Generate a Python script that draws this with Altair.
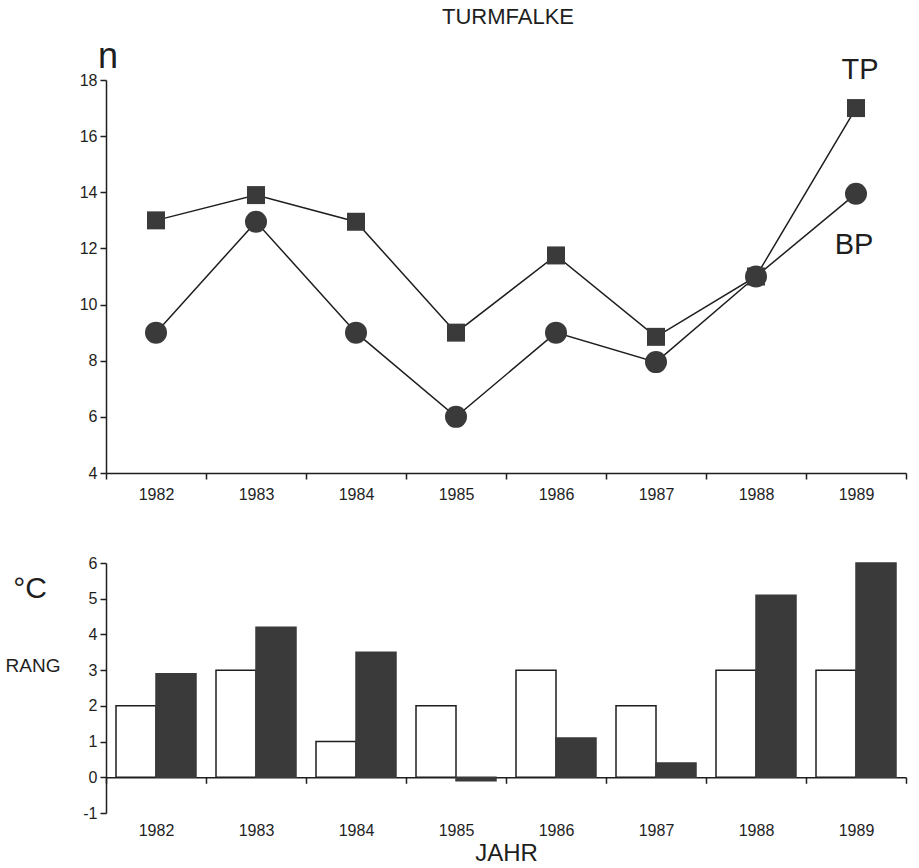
import altair as alt
import pandas as pd

years = ["1982", "1983", "1984", "1985", "1986", "1987", "1988", "1989"]
tp = [13, 13.9, 12.95, 9, 11.75, 8.85, 11, 17]
bp = [9, 12.95, 9, 6, 9, 7.95, 11, 13.95]
rang = [2, 3, 1, 2, 3, 2, 3, 3]
temp = [2.9, 4.2, 3.5, -0.1, 1.1, 0.4, 5.1, 6.0]

FONT = "Liberation Sans"
DARK = "#3a3a3a"
INK = "#1e1e1e"
LFS = 16

lines_df = pd.DataFrame({"Jahr": years * 2, "n": tp + bp,
                         "Reihe": ["TP"] * 8 + ["BP"] * 8})
bars_df = pd.DataFrame({"Jahr": years * 2, "Wert": rang + temp,
                        "Reihe": ["RANG"] * 8 + ["°C"] * 8})
title_df = pd.DataFrame({"label": ["TURMFALKE"]})
n_df = pd.DataFrame({"label": ["n"]})
c_df = pd.DataFrame({"label": ["°C"]})
rang_df = pd.DataFrame({"label": ["RANG"]})

xtop = alt.X("Jahr:N", bandPosition=0.5,
             scale=alt.Scale(type="band", paddingInner=0, paddingOuter=0),
             axis=alt.Axis(tickBand="extent", labelAngle=0, title=None,
                           labelPadding=7, labelFontSize=LFS))
ytop = alt.Y("n:Q", scale=alt.Scale(domain=[4, 18]),
             axis=alt.Axis(values=list(range(4, 19, 2)), title=None,
                           labelFontSize=LFS))

line = alt.Chart(lines_df).mark_line(color=INK, strokeWidth=1.5).encode(
    x=xtop, y=ytop, detail="Reihe:N")
points = alt.Chart(lines_df).mark_point(filled=True, opacity=1, color=DARK).encode(
    x=xtop, y=ytop,
    shape=alt.Shape("Reihe:N", scale=alt.Scale(domain=["TP", "BP"], range=["square", "circle"]), legend=None),
    size=alt.Size("Reihe:N", scale=alt.Scale(domain=["TP", "BP"], range=[324, 484]), legend=None),
)
tp_lab = alt.Chart(lines_df).transform_filter(
    "datum.Reihe == 'TP' && datum.Jahr == '1989'"
).mark_text(dy=-38, dx=4, fontSize=29, font=FONT, color=INK).encode(
    x=xtop, y=ytop, text="Reihe:N")
bp_lab = alt.Chart(lines_df).transform_filter(
    "datum.Reihe == 'BP' && datum.Jahr == '1989'"
).mark_text(dy=51, dx=-2, fontSize=29, font=FONT, color=INK).encode(
    x=xtop, y=ytop, text="Reihe:N")
title_t = alt.Chart(title_df).mark_text(fontSize=22, font=FONT, color=INK, baseline="middle").encode(
    x=alt.value(402), y=alt.value(-63), text="label:N")
n_t = alt.Chart(n_df).mark_text(fontSize=36, font=FONT, color=INK, baseline="alphabetic").encode(
    x=alt.value(2), y=alt.value(-12), text="label:N")

top = alt.layer(line, points, tp_lab, bp_lab, title_t, n_t).properties(width=800, height=393)

xbot = alt.X("Jahr:N", scale=alt.Scale(paddingInner=0, paddingOuter=0),
             axis=alt.Axis(tickBand="extent", labelAngle=0, title="JAHR",
                           offset=-250 / 7, labelPadding=39, titlePadding=3,
                           labelFontSize=LFS,
                           titleFontSize=24, titleFontWeight="normal"))
bars = alt.Chart(bars_df).mark_bar(strokeWidth=1.5).encode(
    x=xbot,
    xOffset=alt.XOffset("Reihe:N", scale=alt.Scale(domain=["RANG", "°C"], paddingOuter=0.25, paddingInner=0)),
    y=alt.Y("Wert:Q", scale=alt.Scale(domain=[-1, 6]),
            axis=alt.Axis(values=list(range(-1, 7)), title=None,
                          labelFontSize=LFS, labelExpr="'' + datum.value")),
    color=alt.Color("Reihe:N", scale=alt.Scale(domain=["RANG", "°C"], range=["white", DARK]), legend=None),
    stroke=alt.Stroke("Reihe:N", scale=alt.Scale(domain=["RANG", "°C"], range=[INK, DARK]), legend=None),
)
c_t = alt.Chart(c_df).mark_text(fontSize=30, font=FONT, color=INK, baseline="middle").encode(
    x=alt.value(-76), y=alt.value(26), text="label:N")
rang_t = alt.Chart(rang_df).mark_text(fontSize=19, font=FONT, color=INK, baseline="middle").encode(
    x=alt.value(-73), y=alt.value(103), text="label:N")

bottom = alt.layer(bars, c_t, rang_t).properties(width=800, height=250)

chart = alt.vconcat(top, bottom, spacing=53).properties(
    padding={"left": 5, "top": 6, "right": 5, "bottom": 4},
    background="white",
).configure_view(stroke=None).configure_axis(
    domainColor=INK, tickColor=INK, labelColor=INK, titleColor=INK,
    domainWidth=1.5, tickWidth=1.5, tickSize=6, grid=False,
    labelFont=FONT, titleFont=FONT, labelFontSize=LFS, labelPadding=3,
)

chart.save("out.html", embed_options={"renderer": "svg", "actions": False})
